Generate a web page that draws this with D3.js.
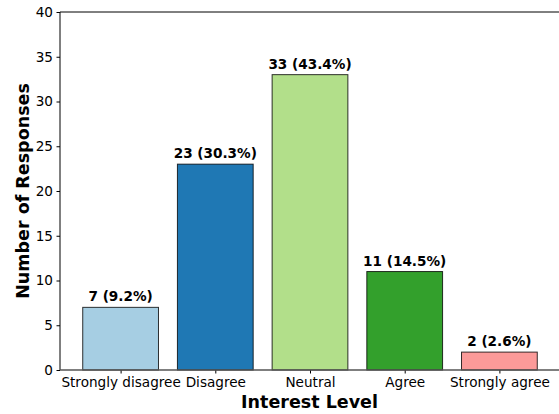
<!DOCTYPE html>
<html><head><meta charset="utf-8">
<script src="https://cdn.jsdelivr.net/npm/d3@7"></script>
<style>body{margin:0;background:#fff}svg{display:block}text{font-family:"DejaVu Sans",sans-serif}</style>
</head><body><svg id="c" width="559" height="414"></svg>
<script>
const categories = ["Strongly disagree","Disagree","Neutral","Agree","Strongly agree"];
const counts = [7, 23, 33, 11, 2];
const percents = [9.2, 30.3, 43.4, 14.5, 2.6];
const colors = ["#a6cee3","#1f78b4","#b2df8a","#33a02c","#fb9a99"];
const yTicks = [0,5,10,15,20,25,30,35,40];

const svg = d3.select("#c");
const L = 60, R = 560, T = 12, B = 370;
const x = d3.scaleLinear().domain([-0.64, 4.64]).range([L, R]);
const y = d3.scaleLinear().domain([0, 40]).range([B, T]);
const bw = x(0.4) - x(0);

svg.selectAll("rect.bar").data(counts).enter().append("rect")
  .attr("class","bar")
  .attr("x",(d,i)=>x(i)-bw)
  .attr("width",bw*2)
  .attr("y",d=>y(d))
  .attr("height",d=>y(0)-y(d))
  .attr("fill",(d,i)=>colors[i])
  .attr("stroke","#000").attr("stroke-opacity",0.8).attr("stroke-width",1);

svg.selectAll("text.val").data(counts).enter().append("text")
  .attr("class","val")
  .attr("x",(d,i)=>x(i))
  .attr("y",d=>y(d)-6)
  .attr("text-anchor","middle")
  .attr("font-size","13.6px").attr("font-weight","bold")
  .text((d,i)=>`${d} (${percents[i].toFixed(1)}%)`);

const yAxis = svg.append("g").attr("transform",`translate(${L},0)`)
  .call(d3.axisLeft(y).tickValues(yTicks).tickSize(3.5).tickPadding(3.5));
yAxis.select(".domain").remove();
yAxis.selectAll("text").attr("font-size","13.6px").attr("fill","#000").style("font-family","DejaVu Sans");
yAxis.selectAll("line").attr("stroke","#000");

const xAxis = svg.append("g").attr("transform",`translate(0,${B})`)
  .call(d3.axisBottom(x).tickValues(d3.range(categories.length)).tickFormat(i=>categories[i]).tickSize(3.5).tickPadding(3.5));
xAxis.select(".domain").remove();
xAxis.selectAll("text").attr("font-size","13.6px").attr("fill","#000").style("font-family","DejaVu Sans");
xAxis.selectAll("line").attr("stroke","#000");

// spines
svg.append("line").attr("x1",L).attr("x2",L).attr("y1",T).attr("y2",B).attr("stroke","#000").attr("stroke-width",1);
svg.append("line").attr("x1",L).attr("x2",R).attr("y1",T).attr("y2",T).attr("stroke","#000").attr("stroke-width",1);
svg.append("line").attr("x1",R).attr("x2",R).attr("y1",T).attr("y2",B).attr("stroke","#000").attr("stroke-width",1);
svg.append("line").attr("x1",L).attr("x2",R).attr("y1",B).attr("y2",B).attr("stroke","#555").attr("stroke-width",1.5);

svg.append("text").attr("x",(L+R)/2-0.5).attr("y",408).attr("text-anchor","middle")
  .attr("font-size","17.5px").attr("font-weight","bold").text("Interest Level");
svg.append("text").attr("transform",`translate(29,${(T+B)/2}) rotate(-90)`).attr("text-anchor","middle")
  .attr("font-size","17.5px").attr("font-weight","bold").text("Number of Responses");
</script></body></html>
